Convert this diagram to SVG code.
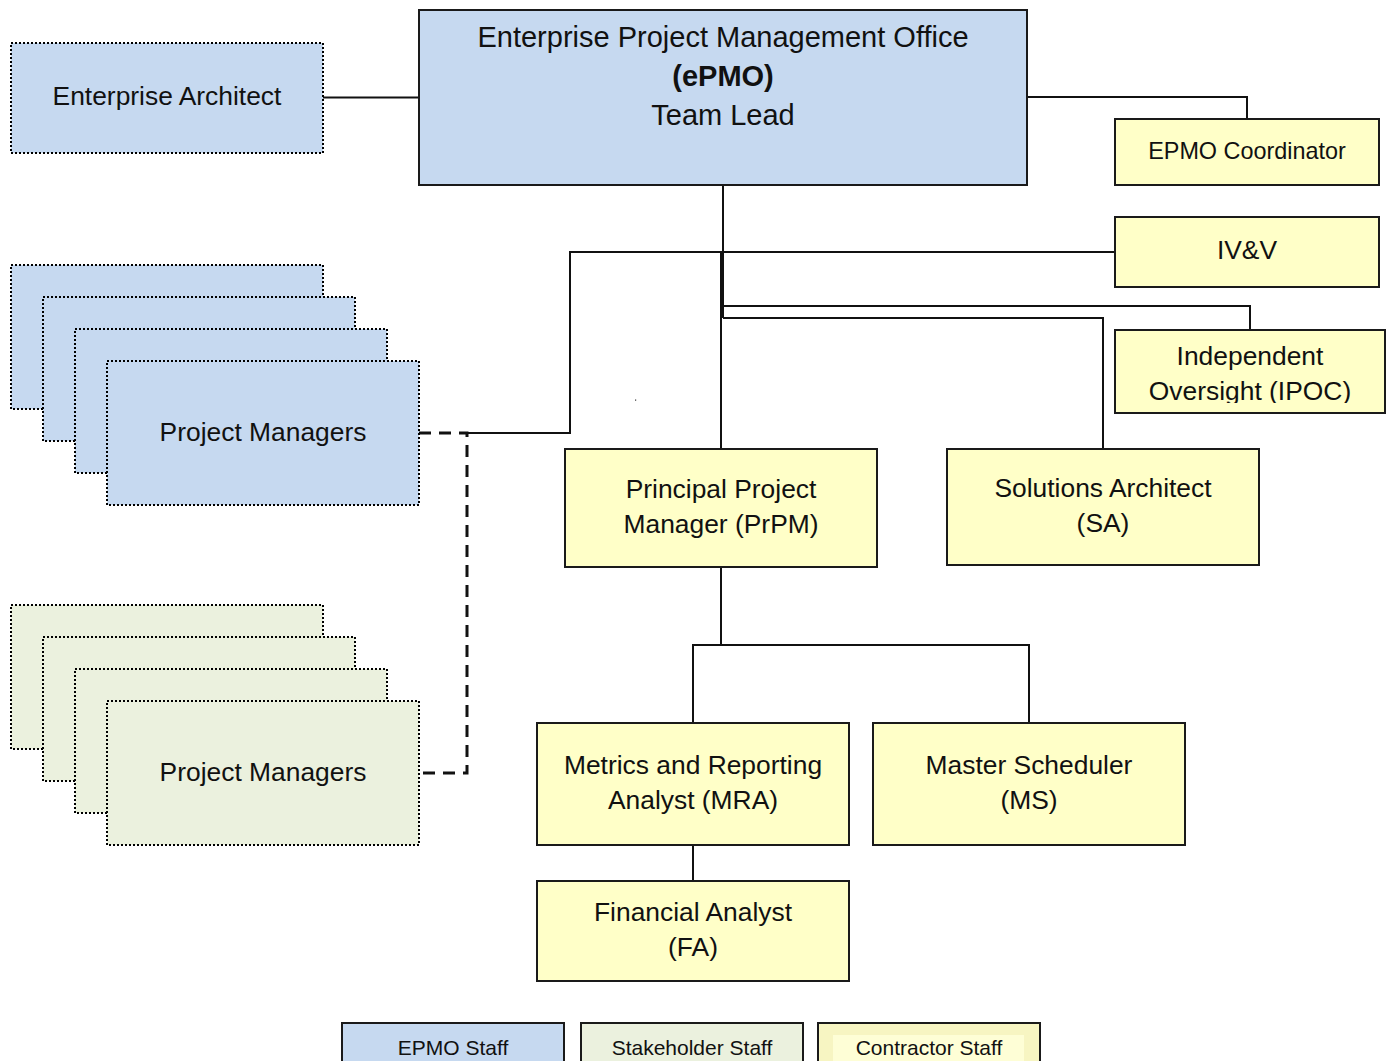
<svg xmlns="http://www.w3.org/2000/svg" width="1386" height="1061" viewBox="0 0 1386 1061">
  <style>
    text { font-family: "Liberation Sans", Arial, sans-serif; fill: #111; text-anchor: middle; }
    .t { font-size: 26.4px; }
    .title { font-size: 29px; }
    .small { font-size: 23.4px; }
    .leg { font-size: 21px; }
    .solid { stroke: #1a1a1a; stroke-width: 2; }
    .dotted { stroke: #000; stroke-width: 2; stroke-dasharray: 2 2; }
    .blue { fill: #c6d9f0; }
    .green { fill: #ebf1de; }
    .yellow { fill: #ffffc8; }
    .conn { fill: none; stroke: #111; stroke-width: 2; }
    .dash { fill: none; stroke: #111; stroke-width: 3; stroke-dasharray: 12 8; }
  </style>
  <defs>
    <clipPath id="ipocClip">
      <rect x="1115" y="330" width="270" height="73"/>
    </clipPath>
  </defs>
  <rect width="1386" height="1061" fill="#fff"/>

  <!-- connectors -->
  <g id="connectors">
    <polyline class="conn" points="323,97.5 419,97.5"/>
    <polyline class="conn" points="1027,97 1247,97 1247,119"/>
    <polyline class="conn" points="723,185 723,318"/>
    <polyline class="conn" points="721,252 721,449"/>
    <polyline class="conn" points="467,433 570,433 570,252 1115,252"/>
    <polyline class="conn" points="723,306 1250,306 1250,330"/>
    <polyline class="conn" points="723,318 1103,318 1103,449"/>
    <polyline class="conn" points="721,567 721,645"/>
    <polyline class="conn" points="693,723 693,645 1029,645 1029,723"/>
    <polyline class="conn" points="693,845 693,881"/>
    <polyline class="dash" points="419,433 467,433 467,773 421,773"/>
  </g>

  <!-- top office -->
  <g id="epmo">
    <rect class="blue solid" x="419" y="10" width="608" height="175"/>
    <text class="title" x="723" y="47">Enterprise Project Management Office</text>
    <text class="title" x="723" y="86" font-weight="bold">(ePMO)</text>
    <text class="title" x="723" y="125">Team Lead</text>
  </g>

  <g id="enterprise-architect">
    <rect class="blue dotted" x="11" y="43" width="312" height="110"/>
    <text class="t" x="167" y="105">Enterprise Architect</text>
  </g>

  <g id="epmo-coordinator">
    <rect class="yellow solid" x="1115" y="119" width="264" height="66"/>
    <text class="small" x="1247" y="159">EPMO Coordinator</text>
  </g>

  <g id="ivv">
    <rect class="yellow solid" x="1115" y="217" width="264" height="70"/>
    <text class="t" x="1247" y="259">IV&amp;V</text>
  </g>

  <g id="ipoc">
    <rect class="yellow solid" x="1115" y="330" width="270" height="83"/>
    <g clip-path="url(#ipocClip)">
      <text class="t" x="1250" y="365">Independent</text>
      <text class="t" x="1250" y="400">Oversight (IPOC)</text>
    </g>
  </g>

  <!-- EPMO project manager stack -->
  <g id="pm-epmo">
    <rect class="blue dotted" x="11" y="265" width="312" height="144"/>
    <rect class="blue dotted" x="43" y="297" width="312" height="144"/>
    <rect class="blue dotted" x="75" y="329" width="312" height="144"/>
    <rect class="blue dotted" x="107" y="361" width="312" height="144"/>
    <text class="t" x="263" y="441">Project Managers</text>
  </g>

  <!-- stakeholder project manager stack -->
  <g id="pm-stakeholder">
    <rect class="green dotted" x="11" y="605" width="312" height="144"/>
    <rect class="green dotted" x="43" y="637" width="312" height="144"/>
    <rect class="green dotted" x="75" y="669" width="312" height="144"/>
    <rect class="green dotted" x="107" y="701" width="312" height="144"/>
    <text class="t" x="263" y="781">Project Managers</text>
  </g>

  <g id="prpm">
    <rect class="yellow solid" x="565" y="449" width="312" height="118"/>
    <text class="t" x="721" y="498">Principal Project</text>
    <text class="t" x="721" y="533">Manager (PrPM)</text>
  </g>

  <g id="sa">
    <rect class="yellow solid" x="947" y="449" width="312" height="116"/>
    <text class="t" x="1103" y="497">Solutions Architect</text>
    <text class="t" x="1103" y="532">(SA)</text>
  </g>

  <g id="mra">
    <rect class="yellow solid" x="537" y="723" width="312" height="122"/>
    <text class="t" x="693" y="774">Metrics and Reporting</text>
    <text class="t" x="693" y="809">Analyst (MRA)</text>
  </g>

  <g id="ms">
    <rect class="yellow solid" x="873" y="723" width="312" height="122"/>
    <text class="t" x="1029" y="774">Master Scheduler</text>
    <text class="t" x="1029" y="809">(MS)</text>
  </g>

  <g id="fa">
    <rect class="yellow solid" x="537" y="881" width="312" height="100"/>
    <text class="t" x="693" y="921">Financial Analyst</text>
    <text class="t" x="693" y="956">(FA)</text>
  </g>

  <!-- small stray mark -->
  <rect x="635" y="399.5" width="1.2" height="1.2" fill="#333"/>

  <!-- legend -->
  <g id="legend-epmo">
    <rect class="blue solid" x="342" y="1023" width="222" height="50"/>
    <text class="leg" x="453" y="1055">EPMO Staff</text>
  </g>
  <g id="legend-stakeholder">
    <rect class="green solid" x="581" y="1023" width="222" height="50"/>
    <text class="leg" x="692" y="1055">Stakeholder Staff</text>
  </g>
  <g id="legend-contractor">
    <rect class="solid" fill="#f7f5c2" x="818" y="1023" width="222" height="50"/>
    <rect fill="#fefed6" x="833" y="1035" width="191" height="30"/>
    <text class="leg" x="929" y="1055">Contractor Staff</text>
  </g>
</svg>
